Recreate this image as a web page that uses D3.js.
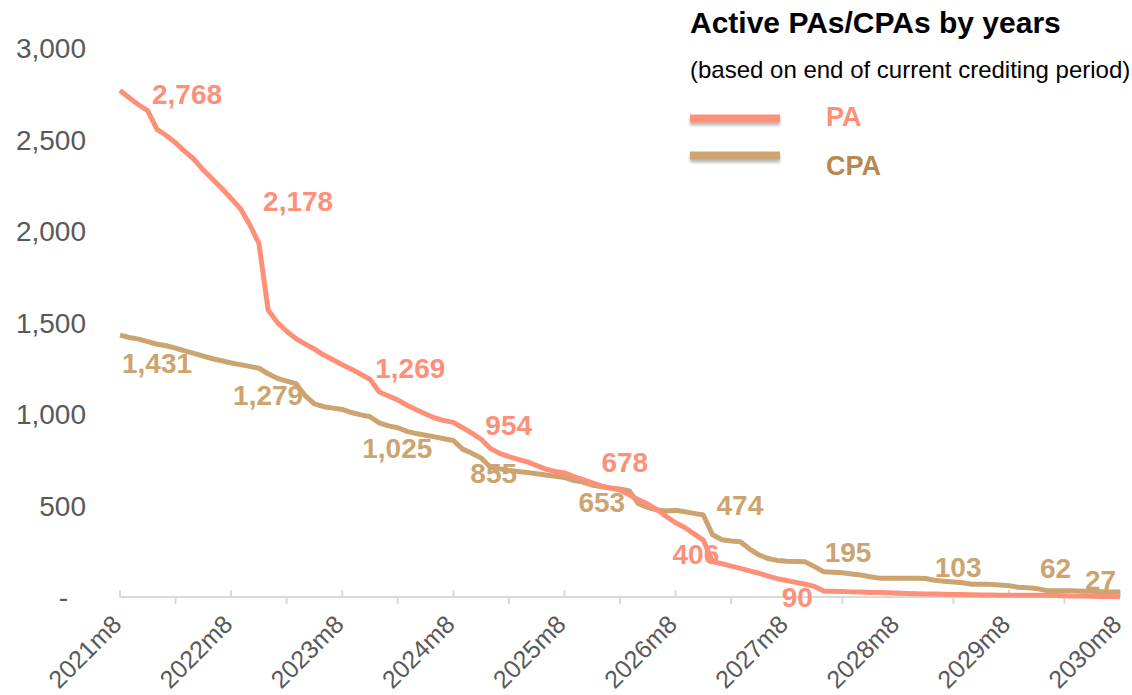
<!DOCTYPE html>
<html>
<head>
<meta charset="utf-8">
<script src="https://cdn.jsdelivr.net/npm/d3@7"></script>
<style>
  body { margin: 0; background: #fff; }
  svg { display: block; font-family: "Liberation Sans", Arial, sans-serif; }
</style>
</head>
<body>
<svg id="chart"></svg>
<script>
// monthly values, 2021m8 .. 2030m8
var paValues = [2768, 2728, 2690, 2657, 2555, 2522, 2482, 2435, 2392, 2333, 2283, 2232,
  2178, 2123, 2035, 1933, 1568, 1500, 1452, 1412, 1382, 1355, 1322, 1296,
  1269, 1245, 1217, 1190, 1120, 1098, 1077, 1048, 1023, 1000, 978, 964,
  954, 925, 895, 862, 812, 785, 767, 752, 738, 718, 699, 686,
  678, 658, 642, 624, 606, 596, 585, 558, 532, 508, 478, 440,
  406, 380, 345, 311, 193, 182, 169, 156, 143, 130, 114, 100,
  90, 80, 70, 58, 33, 31, 30, 28, 27, 25, 24, 23,
  21, 19, 18, 17, 16, 15, 14, 13, 12, 11, 11, 10,
  10, 10, 9, 9, 9, 8, 7, 6, 5, 4, 3, 3, 2];

var cpaValues = [1431, 1418, 1409, 1395, 1381, 1373, 1360, 1345, 1331, 1316, 1302, 1291,
  1279, 1270, 1260, 1250, 1220, 1195, 1180, 1166, 1100, 1055, 1040, 1032,
  1025, 1008, 995, 985, 952, 935, 925, 905, 893, 884, 875, 865,
  855, 808, 785, 760, 710, 700, 692, 686, 680, 674, 667, 660,
  653, 636, 628, 612, 602, 594, 590, 580, 510, 490, 475, 470,
  474, 466, 457, 448, 340, 313, 306, 302, 262, 230, 210, 200,
  195, 194, 192, 166, 138, 135, 132, 126, 120, 111, 103, 103,
  103, 102, 102, 101, 92, 86, 82, 78, 70, 69, 69, 66,
  62, 53, 50, 46, 36, 34, 34, 34, 32, 31, 29, 28, 27];

var months = d3.range(paValues.length);
var monthLabels = months.map(function(i) {
  return (2021 + Math.floor((7 + i) / 12)) + "m" + ((7 + i) % 12 + 1);
});
var yearTicks = d3.range(0, 109, 12);
var halfYearTicks = d3.range(6, 109, 12);
var yTicks = [0, 500, 1000, 1500, 2000, 2500, 3000];

// which points carry a data label
var paLabelIdx = [0, 12, 24, 36, 48, 60, 72];
var cpaLabelIdx = [0, 12, 24, 36, 48, 60, 72, 84, 96, 108];

// label placement (left edge offset, vertical centre offset) from the point
var paLabelOff = [[32, 3], [32, 2], [33, 3], [32, 3], [37, -11], [-3, 31], [-5, 16]];
var cpaLabelOff = [[2, 28], [2, 32], [20, 38], [17, 32], [14, 24], [41, -5], [38, -9], [37, -11], [31, -18], [-35, -12]];

var paColor = "#FE9079",
    cpaColor = "#CBA470",
    cpaText = "#B8884D",
    gray = "#595959";

var width = 1132, height = 695;

var svg = d3.select("#chart")
    .attr("width", width)
    .attr("height", height);

var defs = svg.append("defs");
defs.append("filter")
    .attr("id", "shadow")
    .attr("filterUnits", "userSpaceOnUse")
    .attr("x", 670).attr("y", 90)
    .attr("width", 140).attr("height", 100)
  .append("feDropShadow")
    .attr("dx", 0).attr("dy", 3)
    .attr("stdDeviation", 1.5)
    .attr("flood-color", "#808080")
    .attr("flood-opacity", 0.55);

var x = d3.scaleLinear().domain([0, 108]).range([120, 1120]);
var y = d3.scaleLinear().domain([0, 3000]).range([597, 48]);

// y axis labels
var yAxis = svg.append("g")
    .attr("transform", "translate(86,0)")
    .call(d3.axisLeft(y)
      .tickValues(yTicks)
      .tickSize(0)
      .tickPadding(0)
      .tickFormat(function(d) { return d === 0 ? "-" : d3.format(",")(d); }));
yAxis.select(".domain").remove();
yAxis.selectAll("text")
    .attr("fill", gray)
    .attr("font-size", 28)
    .attr("font-family", "Liberation Sans, Arial, sans-serif")
    .attr("dy", "0.35em")
    .attr("dx", function(d) { return d === 0 ? -18 : 0; });

// x axis: line, yearly ticks up, half-year ticks down
var xg = svg.append("g");
xg.append("line")
    .attr("x1", x(0)).attr("x2", x(108))
    .attr("y1", y(0)).attr("y2", y(0))
    .attr("stroke", "#D9D9D9")
    .attr("stroke-width", 2);

xg.selectAll("line.up")
    .data(yearTicks)
  .enter().append("line")
    .attr("class", "up")
    .attr("x1", function(d) { return x(d); })
    .attr("x2", function(d) { return x(d); })
    .attr("y1", y(0)).attr("y2", y(0) - 7)
    .attr("stroke", "#D9D9D9")
    .attr("stroke-width", 2);

xg.selectAll("line.down")
    .data(halfYearTicks)
  .enter().append("line")
    .attr("class", "down")
    .attr("x1", function(d) { return x(d); })
    .attr("x2", function(d) { return x(d); })
    .attr("y1", y(0)).attr("y2", y(0) + 7)
    .attr("stroke", "#D9D9D9")
    .attr("stroke-width", 2);

xg.selectAll("text")
    .data(yearTicks)
  .enter().append("text")
    .attr("transform", function(d) { return "translate(" + (x(d) + 3) + "," + (y(0) + 29) + ") rotate(-45)"; })
    .attr("text-anchor", "end")
    .attr("fill", gray)
    .attr("font-size", 25)
    .text(function(d) { return monthLabels[d]; });

// data labels (under the lines, as in the original)
function drawLabels(values, idx, off, color) {
  svg.append("g").selectAll("text")
      .data(idx)
    .enter().append("text")
      .attr("x", function(d, i) { return x(d) + off[i][0]; })
      .attr("y", function(d, i) { return y(values[d]) + off[i][1]; })
      .attr("dy", "0.36em")
      .attr("fill", color)
      .attr("font-size", 28)
      .attr("font-weight", "bold")
      .text(function(d) { return d3.format(",")(values[d]); });
}
drawLabels(paValues, paLabelIdx, paLabelOff, paColor);
drawLabels(cpaValues, cpaLabelIdx, cpaLabelOff, cpaColor);

// lines
var line = d3.line()
    .x(function(d, i) { return x(i); })
    .y(function(d) { return y(d); });

svg.append("path")
    .datum(cpaValues)
    .attr("fill", "none")
    .attr("stroke", cpaColor)
    .attr("stroke-width", 5)
    .attr("stroke-linejoin", "round")
    .attr("d", line);

svg.append("path")
    .datum(paValues)
    .attr("fill", "none")
    .attr("stroke", paColor)
    .attr("stroke-width", 5)
    .attr("stroke-linejoin", "round")
    .attr("d", line);

// title and legend
svg.append("text")
    .attr("x", 690).attr("y", 33)
    .attr("font-size", 30)
    .attr("font-weight", "bold")
    .attr("fill", "#000")
    .text("Active PAs/CPAs by years");

svg.append("text")
    .attr("x", 690).attr("y", 78)
    .attr("font-size", 24)
    .attr("fill", "#000")
    .text("(based on end of current crediting period)");

var legend = [
  {name: "PA", color: paColor, text: paColor, ly: 118.5, ty: 116},
  {name: "CPA", color: cpaColor, text: cpaText, ly: 155.5, ty: 165}
];

var lg = svg.append("g").selectAll("g")
    .data(legend)
  .enter().append("g");

lg.append("rect")
    .attr("x", 690).attr("width", 90)
    .attr("y", function(d) { return d.ly - 4; })
    .attr("height", 8)
    .attr("fill", function(d) { return d.color; })
    .attr("filter", "url(#shadow)");

lg.append("text")
    .attr("x", 826)
    .attr("y", function(d) { return d.ty; })
    .attr("dy", "0.36em")
    .attr("font-size", 27)
    .attr("font-weight", "bold")
    .attr("fill", function(d) { return d.text; })
    .text(function(d) { return d.name; });
</script>
</body>
</html>
